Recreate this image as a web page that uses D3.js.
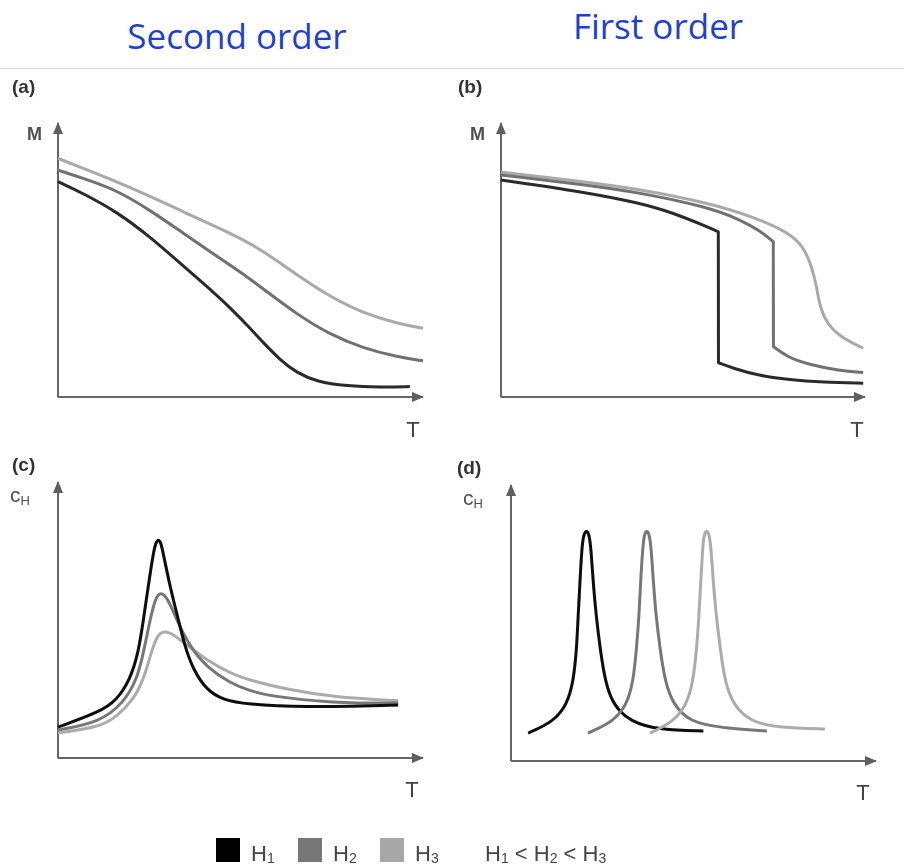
<!DOCTYPE html>
<html>
<head>
<meta charset="utf-8">
<script src="https://cdn.jsdelivr.net/npm/d3@7/dist/d3.min.js"></script>
<style>
  html, body { margin: 0; padding: 0; background: #fff; }
  svg { display: block; }
</style>
</head>
<body>
<svg id="fig" width="904" height="867"></svg>
<script>
// Series as [T, value] points in arbitrary units (0..100 on both axes)
// (a) magnetisation, second-order transition
const a_H1 = [[0,78.6],[6.9,74.3],[16.1,67.6],[25.2,58.5],[34.3,47.8],[43.5,37.2],[47.1,32.6],[51.7,26.4],[56.2,19.9],[60.8,13.6],[65.4,8.8],[70.9,5.6],[79.1,4],[88.2,3.5],[96.4,3.8]];
const a_H2 = [[0,82.8],[6.9,79.8],[16.1,75.5],[25.2,68.2],[34.3,59.8],[43.5,51.4],[49.9,45.7],[56.2,39.5],[65.4,30.2],[74.5,22.8],[83.6,17.8],[92.8,14.7],[100,13.2]];
const a_H3 = [[0,87.1],[6.9,83.5],[16.1,78.6],[25.2,73.3],[34.3,67.6],[43.5,62],[49.9,58],[56.2,53.3],[65.4,44.6],[74.5,36.6],[83.6,30.6],[92.8,26.9],[100,25.1]];
// (b) magnetisation, first-order transition (jump at the transition temperature)
const b_H1 = [[0,79.2],[22.5,74.9],[38.2,70.8],[47.3,67.2],[56.5,62.2],[59.7,60.3],[59.75,12.5],[63.8,10.5],[70.2,8],[79.4,6.2],[88.5,5.4],[99.5,5]];
const b_H2 = [[0,81],[22.5,77.6],[38.2,74.6],[56.5,69.4],[65.7,64.8],[71.2,60.6],[74.8,56.7],[74.85,18.4],[78.5,14.7],[84,12],[93.1,9.6],[99.5,8.9]];
const b_H3 = [[0,82.1],[22.5,78.6],[38.2,75.8],[56.5,71],[70.2,65.4],[79.4,59.7],[83,55],[85.4,47.6],[86.7,40.3],[87.6,33],[89.5,26.9],[93.1,22],[99.5,17.8]];
// (c) heat capacity, second-order transition
const c_H1 = [[0,11.2],[11.5,16.7],[16.1,21],[19.7,28.3],[22,38],[23.4,50],[24.7,62],[26.1,74.3],[26.8,78],[27.5,79.4],[28.2,78],[28.8,74.3],[30.7,62],[33,50],[34.8,40.2],[37.1,31.9],[40.7,24.6],[45.3,21],[51.7,19.5],[66.3,18.3],[93.2,19.2]];
const c_H2 = [[0,10.1],[11.5,13],[17.9,19.9],[21.6,28.3],[23.4,38],[25.2,50],[26.6,57.6],[28.1,60.4],[30.2,57.6],[32.5,50],[36.2,40.2],[40.7,33],[47.1,27.2],[52.1,24.6],[57.3,22.5],[75.3,19.9],[93.2,19.9]];
const c_H3 = [[0,9.1],[11.5,11.2],[16.1,15],[20.6,21],[23.4,28.3],[25.2,36.7],[27,44.2],[29,46.2],[31.6,44.8],[35.3,40.9],[40.7,35.5],[47.1,30.8],[52.1,28.3],[63.6,24.6],[75.3,22.1],[93.2,20.7]];
// (d) heat capacity, first-order transition
const d_H1 = [[4.7,10.1],[11.6,14.2],[15.3,20.3],[17.1,28.7],[18,40.9],[18.4,52.9],[18.9,65],[19.4,77.2],[19.9,82.2],[20.7,83.6],[21.4,82.2],[21.9,77.2],[22.5,65],[23.3,52.9],[24.4,40.9],[25.8,28.7],[28,20.3],[32.6,14.2],[40.8,11.2],[52.7,10.9]];
const d_H2 = [[21.1,10.1],[28,14.2],[31.7,20.3],[33.5,28.7],[34.4,40.9],[35.1,52.9],[35.5,65],[36.1,77.2],[36.5,82.2],[37.2,83.6],[37.9,82.2],[38.4,77.2],[39,65],[39.7,52.9],[40.8,40.9],[42.2,28.7],[44.5,20.3],[49,14.2],[57.3,12],[70.1,10.9]];
const d_H3 = [[38.1,10.1],[44.5,14.2],[48.1,20.3],[49.9,28.7],[50.9,40.9],[51.5,52.9],[52,65],[52.5,77.2],[52.9,82.2],[53.6,83.6],[54.3,82.2],[54.8,77.2],[55.4,65],[56.2,52.9],[57.3,40.9],[58.6,28.7],[60.9,20.3],[65.5,14.2],[73.7,12],[86,11.6]];

const fieldNames = ["H1", "H2", "H3"];
const columnTitles = ["Second order", "First order"];
const panelLetters = ["(a)", "(b)", "(c)", "(d)"];

const svg = d3.select("#fig");
const defs = svg.append("defs");
defs.append("filter").attr("id", "soft")
  .attr("x", "-5%").attr("y", "-5%").attr("width", "110%").attr("height", "110%")
  .append("feGaussianBlur").attr("stdDeviation", 0.6);
defs.append("marker").attr("id", "arrow")
  .attr("viewBox", "0 0 12 10").attr("refX", 11).attr("refY", 5)
  .attr("markerWidth", 12).attr("markerHeight", 10)
  .attr("markerUnits", "userSpaceOnUse").attr("orient", "auto")
  .append("path").attr("d", "M0,0 L12,5 L0,10 Z").attr("fill", "#5f5f5f");

const axisColor = "#666";
const colorTop = { H1: "#2b2b2b", H2: "#717171", H3: "#a9a9a9" };
const colorBottom = { H1: "#0a0a0a", H2: "#777777", H3: "#ababab" };

// Column headings and separator
svg.append("text").text(columnTitles[0])
  .attr("x", 237).attr("y", 49).attr("text-anchor", "middle")
  .attr("font-family", "Open Sans").attr("font-size", 35).attr("fill", "#1f3fd3");
svg.append("text").text(columnTitles[1])
  .attr("x", 658).attr("y", 39).attr("text-anchor", "middle")
  .attr("font-family", "Open Sans").attr("font-size", 35).attr("fill", "#1f3fd3");
svg.append("line").attr("x1", 0).attr("x2", 904).attr("y1", 68.5).attr("y2", 68.5)
  .attr("stroke", "#dcdcdc").attr("stroke-width", 1);

const art = svg.append("g").attr("filter", "url(#soft)");

const panels = [
  { letter: panelLetters[0], lx: 12, ly: 93, left: 58, top: 123, bottom: 397, right: 423, ylab: "M",
    series: [a_H3, a_H2, a_H1], keys: ["H3","H2","H1"], colors: colorTop, tx: 413, ty: 437, mx: 27, my: 140 },
  { letter: panelLetters[1], lx: 458, ly: 93, left: 501, top: 123, bottom: 397, right: 865, ylab: "M",
    series: [b_H3, b_H2, b_H1], keys: ["H3","H2","H1"], colors: colorTop, tx: 857, ty: 437, mx: 470, my: 140 },
  { letter: panelLetters[2], lx: 12, ly: 471, left: 58, top: 482, bottom: 758, right: 423, ylab: "c",
    series: [c_H3, c_H2, c_H1], keys: ["H3","H2","H1"], colors: colorBottom, tx: 412, ty: 797, mx: 10, my: 502 },
  { letter: panelLetters[3], lx: 457, ly: 474, left: 511, top: 485, bottom: 761, right: 876, ylab: "c",
    series: [d_H1, d_H2, d_H3], keys: ["H1","H2","H3"], colors: colorBottom, tx: 863, ty: 800, mx: 463, my: 505 }
];

// Split a series wherever T barely advances (a discontinuous jump),
// smooth each branch and join the branches with a straight drop.
function branches(s) {
  const out = [[s[0]]];
  for (let i = 1; i < s.length; i++) {
    if (s[i][0] - s[i - 1][0] < 0.2) out.push([]);
    out[out.length - 1].push(s[i]);
  }
  return out;
}

panels.forEach((p) => {
  const g = art.append("g");
  const x = d3.scaleLinear().domain([0, 100]).range([p.left, p.right]);
  const y = d3.scaleLinear().domain([0, 100]).range([p.bottom, p.top]);

  // axes: bare domain lines ending in arrowheads
  const gx = g.append("g").attr("transform", `translate(0,${p.bottom})`)
    .call(d3.axisBottom(x).tickValues([]).tickSizeOuter(0));
  gx.select(".domain").attr("stroke", axisColor).attr("stroke-width", 2)
    .attr("d", `M${p.left},0H${p.right}`).attr("marker-end", "url(#arrow)");
  const gy = g.append("g").attr("transform", `translate(${p.left},0)`)
    .call(d3.axisLeft(y).tickValues([]).tickSizeOuter(0));
  gy.select(".domain").attr("stroke", axisColor).attr("stroke-width", 2)
    .attr("d", `M0,${p.bottom}V${p.top}`).attr("marker-end", "url(#arrow)");

  const line = d3.line().x(d => x(d[0])).y(d => y(d[1])).curve(d3.curveBasis);
  p.series.forEach((s, k) => {
    const d = branches(s).map((b, j) => {
      const seg = line(b);
      return j === 0 ? seg : seg.replace(/^M/, "L");
    }).join("");
    g.append("path").attr("d", d)
      .attr("fill", "none").attr("stroke", p.colors[p.keys[k]])
      .attr("stroke-width", 3).attr("stroke-linejoin", "round").attr("stroke-linecap", "butt");
  });

  // panel letter
  g.append("text").text(p.letter).attr("x", p.lx).attr("y", p.ly)
    .attr("font-family", "Liberation Sans, Arial").attr("font-weight", "bold")
    .attr("font-size", 19).attr("fill", "#333");
  // y label
  const yl = g.append("text").attr("x", p.mx).attr("y", p.my)
    .attr("font-family", "Liberation Sans, Arial").attr("fill", "#505050");
  if (p.ylab === "M") {
    yl.attr("font-size", 18).attr("font-weight", "bold").text("M");
  } else {
    yl.attr("font-size", 21).text("c");
    yl.append("tspan").attr("font-size", 13).attr("dy", 3).text("H");
  }
  // x label
  g.append("text").text("T").attr("x", p.tx).attr("y", p.ty)
    .attr("font-family", "Liberation Sans, Arial").attr("font-size", 22).attr("fill", "#444")
    .attr("text-anchor", "middle");
});

// Legend
const legendColors = ["#000000", "#777777", "#a8a8a8"];
const legendX = [216, 298, 380];
const lg = art.append("g");
fieldNames.forEach((name, i) => {
  lg.append("rect").attr("x", legendX[i]).attr("y", 838).attr("width", 24).attr("height", 24)
    .attr("fill", legendColors[i]);
  const t = lg.append("text").attr("x", legendX[i] + 35).attr("y", 861)
    .attr("font-family", "Liberation Sans, Arial").attr("font-size", 22).attr("fill", "#444")
    .text(name[0]);
  t.append("tspan").attr("font-size", 14).attr("dy", 2).text(name.slice(1));
});
const rel = lg.append("text").attr("x", 485).attr("y", 861)
  .attr("font-family", "Liberation Sans, Arial").attr("font-size", 22).attr("fill", "#444");
fieldNames.forEach((name, i) => {
  rel.append("tspan").attr("font-size", 22).attr("dy", i === 0 ? 0 : -2).text((i ? " < " : "") + name[0]);
  rel.append("tspan").attr("font-size", 14).attr("dy", 2).text(name.slice(1));
});
</script>
</body>
</html>
